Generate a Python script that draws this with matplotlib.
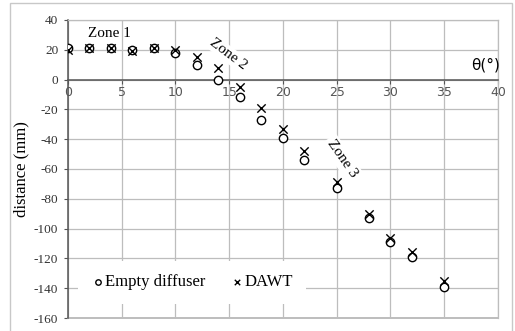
import matplotlib
matplotlib.use("Agg")
import matplotlib.pyplot as plt
from matplotlib.patches import Rectangle

plt.rcParams["axes.unicode_minus"] = False

# angulos (grados) y distancias (mm)
theta = [0, 2, 4, 6, 8, 10, 12, 14, 16, 18, 20, 22, 25, 28, 30, 32, 35]
empty_diffuser = [21, 21, 21, 20, 21, 17.5, 9.5, 0, -12, -27, -39, -54, -73, -93, -109, -119, -139]
dawt = [20, 21, 21, 19, 21, 20, 15, 8, -5, -19, -33, -48, -69, -90, -106, -116, -135]

x_ticks = [0, 5, 10, 15, 20, 25, 30, 35, 40]
y_ticks = [40, 20, 0, -20, -40, -60, -80, -100, -120, -140, -160]

serif = "Liberation Serif"
sans = "DejaVu Sans"

fig = plt.figure(figsize=(5.15, 3.31), dpi=100)
ax = fig.add_axes([0.132, 0.039, 0.835, 0.901])

# borde exterior del grafico
fig.patches.append(Rectangle((10 / 515, -0.01), 502 / 515, 1 - 3 / 331 + 0.01,
                             transform=fig.transFigure, fill=False,
                             edgecolor="#c8c8c8", linewidth=1))

ax.scatter(theta, empty_diffuser, marker="o", s=36, facecolors="white",
           edgecolors="black", linewidths=1, zorder=3, label="Empty diffuser")
ax.scatter(theta, dawt, marker="x", s=36, color="black", linewidths=1,
           zorder=4, label="DAWT")

ax.set_xlim(0, 40)
ax.set_ylim(-160, 40)
ax.set_xticks(x_ticks)
ax.set_yticks(y_ticks)
ax.grid(True, color="#bdbdbd", linewidth=0.9)
ax.set_axisbelow(True)

ax.spines["left"].set_position(("data", 0))
ax.spines["bottom"].set_position(("data", 0))
for s in ["left", "bottom"]:
    ax.spines[s].set_color("#555555")
    ax.spines[s].set_linewidth(1.1)
for s in ["top", "right"]:
    ax.spines[s].set_color("#bdbdbd")
    ax.spines[s].set_linewidth(0.9)
ax.axhline(-160, color="#bdbdbd", linewidth=1.4, clip_on=False, zorder=1)

ax.tick_params(axis="x", direction="out", length=3, color="#555555",
               labelsize=9, labelcolor="#555555", pad=2)
ax.tick_params(axis="y", direction="out", length=3, color="#555555",
               labelsize=9.5, labelcolor="#333333", pad=4)
for lbl in ax.get_yticklabels():
    lbl.set_fontfamily(serif)
for lbl in ax.get_xticklabels():
    lbl.set_fontfamily(sans)

ax.set_ylabel("distance (mm)", fontfamily=serif, fontsize=12)
ax.yaxis.set_label_coords(-0.09, 0.5)

ax.text(38.8, 10, "θ(°)", fontfamily=sans, fontsize=11, ha="center", va="center")
ax.text(3.9, 31, "Zone 1", fontfamily=serif, fontsize=11, ha="center", va="center")
ax.text(14.9, 17, "Zone 2", fontfamily=serif, fontsize=11, ha="center", va="center",
        rotation=-37, bbox=dict(facecolor="white", edgecolor="none", pad=1))
ax.text(25.5, -53, "Zone 3", fontfamily=serif, fontsize=11, ha="center", va="center",
        rotation=-55, bbox=dict(facecolor="white", edgecolor="none", pad=2))

leg = ax.legend(loc="center left", bbox_to_anchor=(0.003, 0.12), ncol=2,
                prop={"family": serif, "size": 12}, frameon=True, fancybox=False,
                edgecolor="none", facecolor="white", framealpha=1,
                handletextpad=0.05, columnspacing=1.5, handlelength=0.8,
                borderpad=0.8, markerscale=0.65)

fig.savefig("out.png", dpi=100)
